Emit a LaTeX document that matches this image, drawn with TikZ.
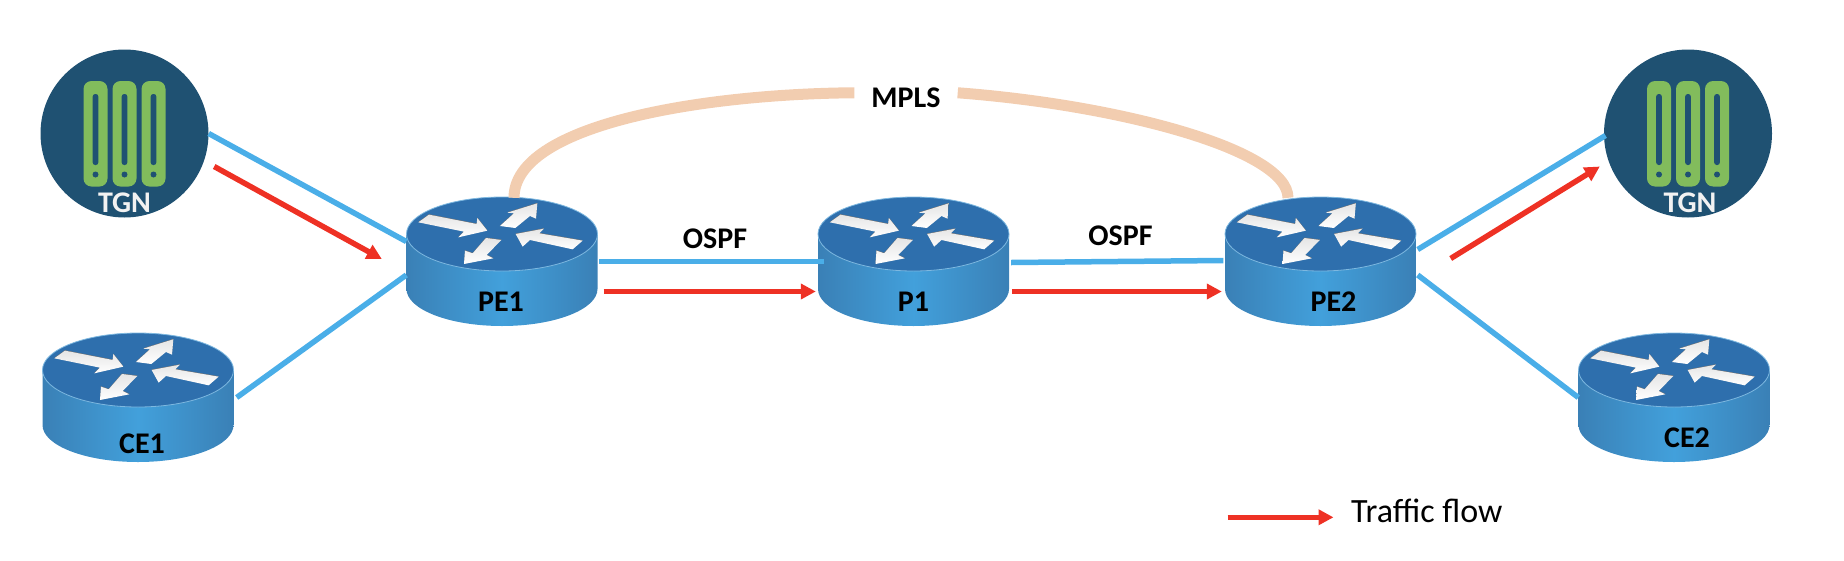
\documentclass[tikz,border=0pt]{standalone}
\usepackage{fontspec}
\setmainfont{Carlito}
\usetikzlibrary{arrows.meta,shapes.geometric}

\definecolor{routertop}{HTML}{2E6FAD}
\definecolor{routeredge}{HTML}{3A80B6}
\definecolor{routermid}{HTML}{42A0DB}
\definecolor{routerrim}{HTML}{7DB8E0}
\definecolor{tgnblue}{HTML}{1F5172}
\definecolor{tgngreen}{HTML}{82BC5C}
\definecolor{linkblue}{HTML}{4AAEE8}
\definecolor{flowred}{HTML}{EE3124}
\definecolor{mplspeach}{HTML}{F2CDB0}

% label text sitting low inside a node, without changing the node's text box
\newcommand{\lowtext}[3]{\makebox[0pt]{\hspace*{#1}\raisebox{#2}[0pt][0pt]{#3}}}

\newcommand{\routerarrow}[1]{
    \path[fill=black!55,shift={(0,-1.5)}] #1 -- cycle;
    \shade[top color=black!10,bottom color=white] #1 -- cycle;
}
\newcommand{\tgnbar}[1]{
    \fill[tgngreen,rounded corners=8pt] (#1-12,-52.5) rectangle (#1+12,53);
    \fill[tgnblue,rounded corners=2.5pt] (#1-2.8,-39.5) rectangle (#1+2.8,31.5);
    \fill[tgnblue] (#1,41) circle (3);
}

\tikzset{router/.style={rectangle,minimum width=191pt,minimum height=129pt,inner sep=0pt,
                        font=\fontsize{30}{31}\selectfont\bfseries},
        tgn/.style={circle,fill=tgnblue,minimum size=168pt,inner sep=0pt,text=black!5,
                    font=\fontsize{30}{31}\selectfont\bfseries},
        proto/.style={anchor=base,inner sep=0pt,font=\fontsize{30}{31}\selectfont\bfseries},
        link/.style={draw=linkblue,line width=5.5pt},
        flow/.style={draw=flowred,line width=5.5pt,-{Triangle[length=15pt,width=15pt,fill=flowred]}},
        mpls/.style={draw=mplspeach,line width=11pt},
        pics/routerbody/.style={code={
            \shade[left color=routeredge,right color=routeredge,middle color=routermid]
                (-95.5,-27.5) -- (-95.5,27.5) .. controls (-95.5,47.9) and (-52.7,64.5) .. (0,64.5)
                .. controls (52.7,64.5) and (95.5,47.9) .. (95.5,27.5) -- (95.5,-27.5) -- cycle;
            \path[fill=routertop,draw=routerrim,line width=.8pt]
                (-95.5,-27.5) .. controls (-95.5,-47.9) and (-52.7,-64.5) .. (0,-64.5)
                .. controls (52.7,-64.5) and (95.5,-47.9) .. (95.5,-27.5)
                .. controls (95.5,-7.1) and (52.7,9.5) .. (0,9.5)
                .. controls (-52.7,9.5) and (-95.5,-7.1) .. (-95.5,-27.5) -- cycle;
            \begin{scope}[shift={(-112,-71.5)},scale=.3333]
                \routerarrow{(85,97) -- (117,74) -- (260,102) -- (262,84) -- (292,122) -- (205,142) -- (222,125)}
                \routerarrow{(330,108) -- (372,70) -- (352,68) -- (442,40) -- (438,86) -- (420,78) -- (376,114)}
                \routerarrow{(377,132) -- (462,116) -- (448,130) -- (578,152) -- (548,178) -- (420,150) -- (398,170)}
                \routerarrow{(222,222) -- (225,182) -- (248,190) -- (288,144) -- (334,150) -- (290,195) -- (310,205)}
            \end{scope}
        }},
        pics/tgnbars/.style={code={
            \tgnbar{-29}
            \tgnbar{0}
            \tgnbar{29}
        }},
        }

\begin{document}
\begin{tikzpicture}[x=1pt,y=-1pt]
    \useasboundingbox (0,0) rectangle (1844,560);

    % routers and generators
    \node[tgn] (TGN1) at (124.5,133.5) {\lowtext{0pt}{-79pt}{TGN}};
    \pic at (TGN1.center) {tgnbars};
    \node[tgn] (TGN2) at (1688,133.5) {\lowtext{4pt}{-79pt}{TGN}};
    \pic at (TGN2.center) {tgnbars};
    \pic at (138,397.5) {routerbody};
    \node[router] (CE1) at (138,397.5) {\lowtext{8pt}{-56pt}{CE1}};
    \pic at (502,261.5) {routerbody};
    \node[router] (PE1) at (502,261.5) {\lowtext{-2pt}{-49.5pt}{PE1}};
    \pic at (913.5,261.5) {routerbody};
    \node[router] (P1) at (913.5,261.5) {\lowtext{0pt}{-49.5pt}{P1}};
    \pic at (1320.5,261.5) {routerbody};
    \node[router] (PE2) at (1320.5,261.5) {\lowtext{26pt}{-49.5pt}{PE2}};
    \pic at (1674,397.5) {routerbody};
    \node[router] (CE2) at (1674,397.5) {\lowtext{26pt}{-50pt}{CE2}};

    % labels
    \node[proto,minimum width=103pt] (MPLS) at (906,107) {MPLS};
    \node[proto] (OSPF1) at (715,248) {OSPF};
    \node[proto] (OSPF2) at (1120.5,245.7) {OSPF};
    \node[anchor=base west,inner sep=0pt,font=\fontsize{34}{35}\selectfont] (traffic) at (1351,522) {Traffic flow};

    % MPLS arc
    \draw[mpls] ([xshift=12pt,yshift=-1pt]PE1.north) .. controls (514,125) and (700,94) .. ([yshift=4.5pt]MPLS.west);
    \draw[mpls] ([xshift=-32.5pt,yshift=-1pt]PE2.north) .. controls (1288,150) and (1120,105) .. ([yshift=4.5pt]MPLS.east);

    % links
    \draw[link] (TGN1.east) -- ([yshift=20pt]PE1.west);
    \draw[link] ([xshift=3pt]CE1.east) -- ([yshift=-13.5pt]PE1.west);
    \draw[link] ([xshift=1.5pt]PE1.east) -- ([xshift=6pt]P1.west);
    \draw[link] ([xshift=2pt,yshift=-1pt]P1.east) -- ([xshift=-1.5pt,yshift=1pt]PE2.west);
    \draw[link] ([xshift=1.5pt,yshift=12pt]PE2.east) -- ([xshift=1.7pt,yshift=-2pt]TGN2.west);
    \draw[link] ([xshift=1.5pt,yshift=-13.5pt]PE2.east) -- (CE2.west);

    % traffic
    \draw[flow] ([xshift=5.5pt,yshift=-33pt]TGN1.east) -- ([xshift=-24.5pt,yshift=2.5pt]PE1.west);
    \draw[flow] ([xshift=6pt,yshift=-30pt]PE1.east) -- ([xshift=-2pt,yshift=-30pt]P1.west);
    \draw[flow] ([xshift=3pt,yshift=-30pt]P1.east) -- ([xshift=-3pt,yshift=-30pt]PE2.west);
    \draw[flow] ([xshift=34.5pt,yshift=3pt]PE2.east) -- ([xshift=-4pt,yshift=-33pt]TGN2.west);

    % legend
    \coordinate (flowtail) at (1227.5,517.3);
    \coordinate (flowtip) at (1333.5,517.3);
    \draw[flow] (flowtail) -- (flowtip);
\end{tikzpicture}
\end{document}
